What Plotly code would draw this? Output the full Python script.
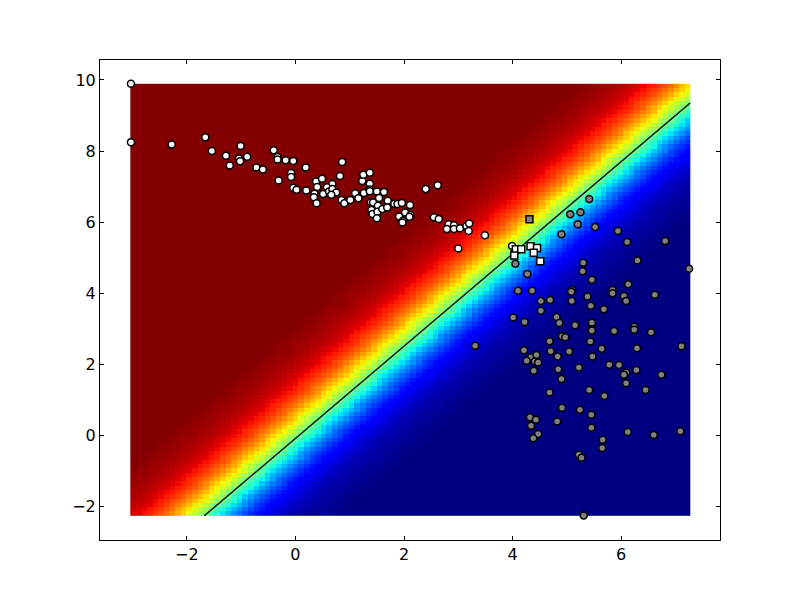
import numpy as np
import plotly.graph_objects as go

# class A circles (white)
white_x = [-3.03, -3.03, -2.28, -1.66, -1.54, -1.28, -1.01, -1.04, -1.02, -0.89, -1.21, -0.72, -0.60, -0.40, -0.33,
           -0.33, -0.18, -0.04, 0.19, -0.08, -0.08, -0.31, -0.04, 0.02, 0.20, 0.38, 0.40, 0.35, 0.34, 0.39,
           0.86, 0.49, 0.82, 0.68, 0.58, 0.51, 0.62, 0.68, 0.75, 0.66, 0.85, 0.90, 1.01, 1.10, 1.16,
           1.26, 1.23, 1.25, 1.37, 1.37, 1.37, 1.37, 1.50, 1.63, 1.54, 1.70, 1.39, 1.43, 1.52, 1.40,
           1.42, 1.51, 1.60, 1.69, 1.50, 1.82, 1.88, 1.96, 2.11, 1.91, 2.02, 2.12, 2.10, 1.98, 1.97,
           2.40, 2.62, 2.55, 2.64, 2.82, 2.79, 2.92, 2.92, 3.03, 3.15, 3.20, 3.19, 3.49, 3.00, 3.99, 4.04]
white_y = [9.89, 8.25, 8.18, 8.39, 8.00, 7.87, 8.14, 7.79, 7.71, 7.84, 7.59, 7.54, 7.48, 8.02, 7.83,
           7.76, 7.74, 7.72, 7.54, 7.38, 7.27, 7.17, 6.97, 6.91, 6.89, 7.14, 6.99, 6.80, 6.70, 6.53,
           7.69, 7.22, 7.30, 7.07, 6.98, 6.79, 6.86, 6.93, 6.83, 6.77, 6.62, 6.53, 6.62, 6.81, 6.67,
           6.82, 7.16, 7.33, 7.39, 7.08, 6.92, 6.87, 6.86, 6.85, 6.68, 6.60, 6.56, 6.55, 6.46, 6.34,
           6.23, 6.29, 6.37, 6.41, 6.11, 6.52, 6.51, 6.54, 6.48, 6.16, 6.27, 6.20, 6.15, 6.04, 5.99,
           6.93, 7.04, 6.14, 6.09, 5.94, 5.81, 5.91, 5.81, 5.83, 5.89, 5.96, 5.75, 5.63, 5.26, 5.33, 5.19]

# class B circles (gray)
gray_x = [4.04, 4.05, 4.27, 4.90, 5.06, 5.25, 5.20, 5.41, 5.52, 5.30, 5.29, 5.46, 6.30, 7.25, 6.13, 5.94, 6.11, 6.81,
          4.10, 4.36, 5.10, 5.08, 5.84, 5.84, 5.38, 6.05, 6.09, 6.62, 4.52, 4.69, 5.09, 5.44, 4.52, 5.68,
          4.01, 4.22, 4.81, 4.86, 5.15, 5.46, 5.46, 5.46, 5.87, 6.24, 6.24, 6.55, 4.91, 4.97, 4.68, 5.43,
          4.21, 4.70, 5.04, 5.64, 6.29, 7.11, 4.34, 4.44, 4.83, 5.47, 4.26, 4.41, 4.47, 4.84, 5.22, 5.78,
          5.96, 4.39, 6.09, 6.05, 6.28, 6.74, 4.90, 6.09, 4.68, 5.41, 6.45, 5.69, 4.91, 5.24, 5.45, 4.32,
          4.43, 4.82, 4.34, 5.45, 4.47, 4.38, 6.12, 6.60, 7.09, 5.66, 5.65, 5.22, 5.27, 5.31, 3.31]
gray_y = [5.15, 4.83, 4.54, 5.66, 6.22, 6.28, 5.94, 6.65, 5.86, 4.86, 4.62, 4.38, 4.92, 4.69, 4.25, 5.75, 5.44, 5.47,
          4.07, 4.07, 4.09, 4.04, 4.09, 4.00, 3.91, 3.92, 3.78, 3.96, 3.78, 3.81, 3.78, 3.65, 3.51, 3.55,
          3.32, 3.19, 3.33, 3.16, 3.10, 3.17, 2.99, 2.95, 2.94, 3.06, 2.97, 2.90, 2.79, 2.76, 2.65, 2.64,
          2.40, 2.37, 2.36, 2.44, 2.45, 2.51, 2.20, 2.26, 2.22, 2.22, 2.10, 2.08, 2.05, 1.86, 1.91, 1.99,
          1.98, 1.82, 1.77, 1.71, 1.84, 1.71, 1.59, 1.47, 1.21, 1.28, 1.28, 1.11, 0.78, 0.72, 0.58, 0.51,
          0.44, 0.39, 0.27, 0.22, 0.04, -0.08, 0.10, 0.01, 0.12, -0.12, -0.35, -0.54, -0.63, -2.25, 2.52]

# squares near the boundary
white_square_x = [4.06, 4.16, 4.33, 4.45, 4.39, 4.51, 4.03]
white_square_y = [5.24, 5.24, 5.32, 5.27, 5.14, 4.90, 5.06]
gray_square_x = [4.31]
gray_square_y = [6.08]

# black boundary line
line_x = [-1.68, 7.27]
line_y = [-2.26, 9.35]

# heatmap cell centres (first, last) and cell count
heat_x_range = [-2.99, 7.22]
heat_y_range = [-2.20, 9.83]
heat_cells = 100

# colour value read across the band, one entry per 0.05 x units from -2.5 to 2.5 around the line
band_offsets = [round(-2.5 + 0.05 * i, 2) for i in range(101)]
band_values = [0.998, 0.996, 0.994, 0.992, 0.990, 0.988, 0.986, 0.984, 0.981, 0.979,
               0.977, 0.975, 0.972, 0.969, 0.966, 0.963, 0.960, 0.956, 0.952, 0.947,
               0.942, 0.937, 0.931, 0.925, 0.918, 0.910, 0.902, 0.893, 0.884, 0.874,
               0.863, 0.851, 0.839, 0.826, 0.812, 0.797, 0.781, 0.764, 0.746, 0.728,
               0.709, 0.689, 0.668, 0.647, 0.625, 0.602, 0.579, 0.556, 0.532, 0.509,
               0.486, 0.462, 0.438, 0.415, 0.392, 0.370, 0.348, 0.327, 0.306, 0.286,
               0.267, 0.249, 0.231, 0.215, 0.199, 0.185, 0.171, 0.158, 0.146, 0.134,
               0.123, 0.113, 0.104, 0.096, 0.088, 0.081, 0.074, 0.068, 0.062, 0.057,
               0.052, 0.047, 0.043, 0.039, 0.036, 0.033, 0.030, 0.027, 0.025, 0.023,
               0.021, 0.019, 0.017, 0.015, 0.013, 0.011, 0.009, 0.007, 0.005, 0.003, 0.001]

JET = [
    [0.0, "#000080"], [0.11, "#0000ff"], [0.125, "#0000ff"], [0.34, "#00dbff"],
    [0.35, "#00e6f7"], [0.375, "#14ffe2"], [0.64, "#eeff08"], [0.65, "#f7f500"],
    [0.66, "#ffec00"], [0.89, "#ff1300"], [0.91, "#e80000"], [1.0, "#800000"],
]


def build_band_grid():
    """Lays the read band out along the line, row by row, without blending entries."""
    xs = np.linspace(heat_x_range[0], heat_x_range[1], heat_cells)
    ys = np.linspace(heat_y_range[0], heat_y_range[1], heat_cells)
    slope = (line_y[1] - line_y[0]) / (line_x[1] - line_x[0])
    offsets = np.array(band_offsets)
    values = np.array(band_values)
    grid = np.zeros((heat_cells, heat_cells))
    for row, y in enumerate(ys):
        boundary_x = line_x[0] + (y - line_y[0]) / slope
        nearest = np.abs(xs[:, None] - boundary_x - offsets[None, :]).argmin(axis=1)
        grid[row] = values[nearest]
    return xs, ys, grid


def add_markers(figure, x, y, symbol, color):
    figure.add_trace(
        go.Scatter(
            x=x,
            y=y,
            mode="markers",
            cliponaxis=False,
            marker=dict(
                symbol=symbol,
                size=7,
                color=color,
                line=dict(color="black", width=1.5),
            ),
            showlegend=False,
        )
    )


heat_x, heat_y, heat_z = build_band_grid()

fig = go.Figure()

fig.add_trace(
    go.Heatmap(
        x=heat_x,
        y=heat_y,
        z=heat_z,
        zmin=0,
        zmax=1,
        colorscale=JET,
        showscale=False,
    )
)

fig.add_trace(
    go.Scatter(
        x=line_x,
        y=line_y,
        mode="lines",
        line=dict(color="black", width=1.4),
        showlegend=False,
    )
)

add_markers(fig, white_x, white_y, "circle", "white")
add_markers(fig, gray_x, gray_y, "circle", "#808080")
add_markers(fig, white_square_x, white_square_y, "square", "white")
add_markers(fig, gray_square_x, gray_square_y, "square", "#808080")

axis_style = dict(
    showgrid=False,
    zeroline=False,
    showline=True,
    mirror="ticks",
    linecolor="black",
    linewidth=1,
    ticks="inside",
    ticklen=4,
    tickwidth=1,
    tickcolor="black",
    tickfont=dict(family="DejaVu Sans", size=16, color="black"),
)

# the page has an 8px body margin, so the figure is 8px short and its margins 8px smaller
fig.update_layout(
    width=792,
    height=592,
    margin=dict(l=92, r=80, t=52, b=60),
    paper_bgcolor="white",
    plot_bgcolor="white",
    showlegend=False,
)
fig.update_xaxes(range=[-3.6, 7.82], tickvals=[-2, 0, 2, 4, 6], **axis_style)
fig.update_yaxes(range=[-2.94, 10.56], tickvals=[-2, 0, 2, 4, 6, 8, 10], **axis_style)

fig.write_html("out.html")
